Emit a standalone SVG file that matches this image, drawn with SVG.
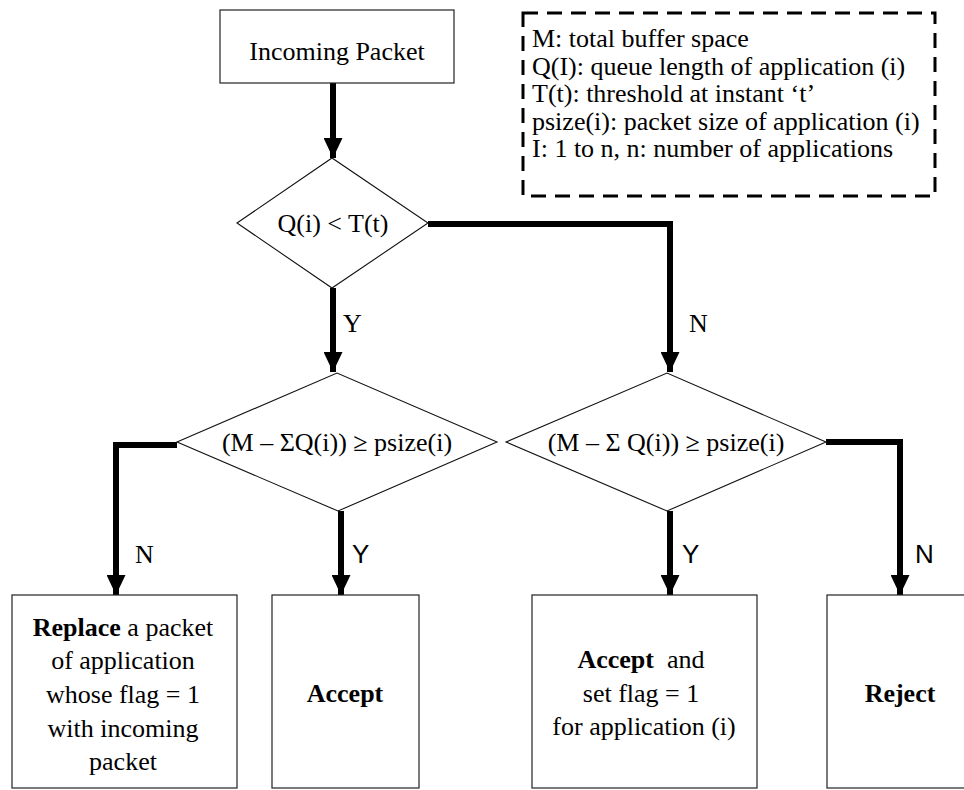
<svg xmlns="http://www.w3.org/2000/svg" width="964" height="790" viewBox="0 0 964 790">
  <style>
    .box { fill: #fff; stroke: #222; stroke-width: 1.2; }
    .dia { fill: #fff; stroke: #111; stroke-width: 1.1; }
    .t { font-family: "Liberation Serif", "Times New Roman", "DejaVu Serif", serif; font-size: 26px; fill: #000; }
    .c { text-anchor: middle; }
    .b { font-weight: bold; }
    .pre { white-space: pre; }
    .s { font-family: "Liberation Sans", Arial, sans-serif; font-size: 26px; fill: #000; }
    .conn { fill: none; stroke: #000; stroke-width: 6; stroke-linejoin: miter; }
    .legend { fill: none; stroke: #000; stroke-width: 3; stroke-dasharray: 15 9; }
  </style>
  <defs>
    <marker id="arrow" viewBox="0 0 20 19" refX="20" refY="9.5" markerWidth="20" markerHeight="19" orient="auto" markerUnits="userSpaceOnUse">
      <path d="M0,0 L20,9.5 L0,19 z" fill="#000"/>
    </marker>
  </defs>
  <rect width="964" height="790" fill="#fff"/>

  <!-- legend of symbols -->
  <g id="legend">
    <rect class="legend" x="523" y="13" width="412" height="183"/>
    <text class="t" x="532" y="47">M: total buffer space</text>
    <text class="t" x="532" y="75">Q(I): queue length of application (i)</text>
    <text class="t" x="532" y="102">T(t): threshold at instant ‘t’</text>
    <text class="t" x="532" y="130">psize(i): packet size of application (i)</text>
    <text class="t" x="532" y="157">I: 1 to n, n: number of applications</text>
  </g>

  <!-- connectors and branch labels -->
  <g id="connectors">
    <path class="conn" d="M333,83 V158" marker-end="url(#arrow)"/>
    <path class="conn" d="M333,288 V372" marker-end="url(#arrow)"/>
    <path class="conn" d="M428,224 H670 V372" marker-end="url(#arrow)"/>
    <path class="conn" d="M177,445 H116 V595" marker-end="url(#arrow)"/>
    <path class="conn" d="M341,511 V595" marker-end="url(#arrow)"/>
    <path class="conn" d="M670,511 V595" marker-end="url(#arrow)"/>
    <path class="conn" d="M826,442 H900 V595" marker-end="url(#arrow)"/>
    <text class="t" x="343" y="332">Y</text>
    <text class="t" x="689" y="332">N</text>
    <text class="t" x="135" y="563">N</text>
    <text class="s" x="352" y="563">Y</text>
    <text class="s" x="682" y="563">Y</text>
    <text class="s" x="915" y="563">N</text>
  </g>

  <g id="incoming">
    <rect class="box" x="220" y="10" width="234" height="73"/>
    <text class="t c" x="337" y="60">Incoming Packet</text>
  </g>

  <g id="check-threshold">
    <polygon class="dia" points="237,223 332,158 428,223 332,288"/>
    <text class="t c" x="333" y="232">Q(i) &lt; T(t)</text>
  </g>

  <g id="check-space-below">
    <polygon class="dia" points="177,442 337,373 497,442 338,511"/>
    <text class="t c" x="337" y="451">(M – ΣQ(i)) ≥ psize(i)</text>
  </g>

  <g id="check-space-above">
    <polygon class="dia" points="506,442 667,373 826,442 667,511"/>
    <text class="t c" x="666" y="451">(M – Σ Q(i)) ≥ psize(i)</text>
  </g>

  <g id="replace">
    <rect class="box" x="12" y="595" width="225" height="193"/>
    <text class="t c" x="123" y="636"><tspan class="b">Replace</tspan> a packet</text>
    <text class="t c" x="123" y="669">of application</text>
    <text class="t c" x="123" y="703">whose flag = 1</text>
    <text class="t c" x="123" y="737">with incoming</text>
    <text class="t c" x="123" y="770">packet</text>
  </g>

  <g id="accept">
    <rect class="box" x="272" y="595" width="147" height="193"/>
    <text class="t c b" x="345" y="702">Accept</text>
  </g>

  <g id="accept-flag">
    <rect class="box" x="532" y="595" width="225" height="193"/>
    <text class="t c pre" x="641" y="668"><tspan class="b">Accept</tspan>  and</text>
    <text class="t c" x="641" y="702">set flag = 1</text>
    <text class="t c" x="644" y="735">for application (i)</text>
  </g>

  <g id="reject">
    <rect class="box" x="827" y="595" width="140" height="193"/>
    <text class="t c b" x="900" y="702">Reject</text>
  </g>
</svg>
